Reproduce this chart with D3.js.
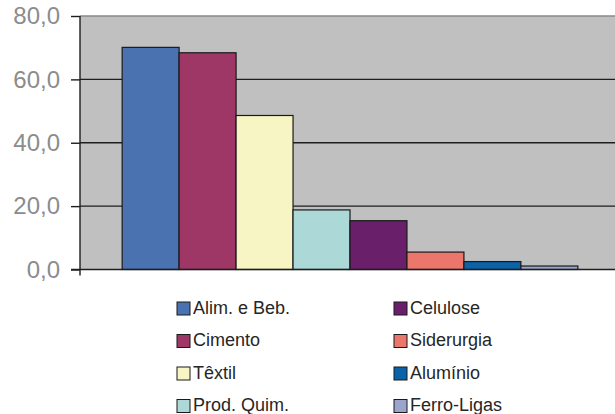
<!DOCTYPE html>
<html><head><meta charset="utf-8">
<script src="https://cdn.jsdelivr.net/npm/d3@7/dist/d3.min.js"></script>
<style>body{margin:0;background:#fff}svg{display:block}</style>
</head><body>
<svg id="c" width="615" height="414"></svg>
<script>
const categories = ["Alim. e Beb.","Cimento","Têxtil","Prod. Quim.","Celulose","Siderurgia","Alumínio","Ferro-Ligas"];
const values = [70.1, 68.4, 48.6, 18.8, 15.4, 5.5, 2.5, 1.1];
const colors = ["#4a72b0","#9e3766","#f8f5c4","#acd8d8","#6a1f6a","#ea766c","#0a62a8","#9ba5cc"];
const yTicks = [0,20,40,60,80];

const svg = d3.select("#c");
const L = 80, R = 620, T = 16, B = 269.5;
const x = d3.scaleBand().domain(categories).range([L, R]).paddingOuter(0.74).paddingInner(0);
const y = d3.scaleLinear().domain([0,80]).range([B, T]);

svg.append("rect").attr("x", L).attr("y", T).attr("width", R-L).attr("height", B-T).attr("fill", "#c0c0c0");
svg.append("line").attr("x1", L).attr("x2", R).attr("y1", T).attr("y2", T).attr("stroke", "#8a8a8a").attr("stroke-width", 1.5);

// gridlines
svg.append("g").selectAll("line").data(yTicks.filter(d=>d>0 && d<80)).join("line")
  .attr("x1", L).attr("x2", R).attr("y1", d=>y(d)).attr("y2", d=>y(d))
  .attr("stroke", "#1e1e1e").attr("stroke-width", 1.4);

// bars
svg.append("g").selectAll("rect").data(values).join("rect")
  .attr("x", (d,i)=>x(categories[i]))
  .attr("width", x.bandwidth())
  .attr("y", d=>y(d))
  .attr("height", d=>y(0)-y(d))
  .attr("fill", (d,i)=>colors[i])
  .attr("stroke", "#1a1a1a").attr("stroke-width", 1.2);

// y axis
const ax = svg.append("g").attr("transform", `translate(${L},0)`)
  .call(d3.axisLeft(y).tickValues(yTicks).tickSize(9).tickPadding(11).tickFormat(d=>d3.format(".1f")(d).replace(".", ",")));
ax.select(".domain").remove();
ax.selectAll(".tick line").attr("stroke", "#1e1e1e").attr("stroke-width", 1.4);
ax.selectAll(".tick text").attr("fill", "#8c8c8c").style("font-family", "Liberation Sans, Arial, sans-serif").style("font-size", "24px");
svg.append("line").attr("x1", L).attr("x2", L).attr("y1", T).attr("y2", B+6).attr("stroke", "#1e1e1e").attr("stroke-width", 1.4);
svg.append("line").attr("x1", L-9).attr("x2", R).attr("y1", B).attr("y2", B).attr("stroke", "#1e1e1e").attr("stroke-width", 1.6);

// legend
const leg = svg.append("g").style("font-family", "Liberation Sans, Arial, sans-serif").style("font-size", "18px");
categories.forEach((c,i)=>{
  const col = Math.floor(i/4), row = i%4;
  const gx = 177 + col*217, gy = 302 + row*32.5;
  leg.append("rect").attr("x", gx).attr("y", gy).attr("width", 13).attr("height", 13)
    .attr("fill", colors[i]).attr("stroke", "#1a1a1a").attr("stroke-width", 1);
  leg.append("text").attr("x", gx+16).attr("y", gy+11.5).attr("fill", "#262626").text(c);
});
</script>
</body></html>
